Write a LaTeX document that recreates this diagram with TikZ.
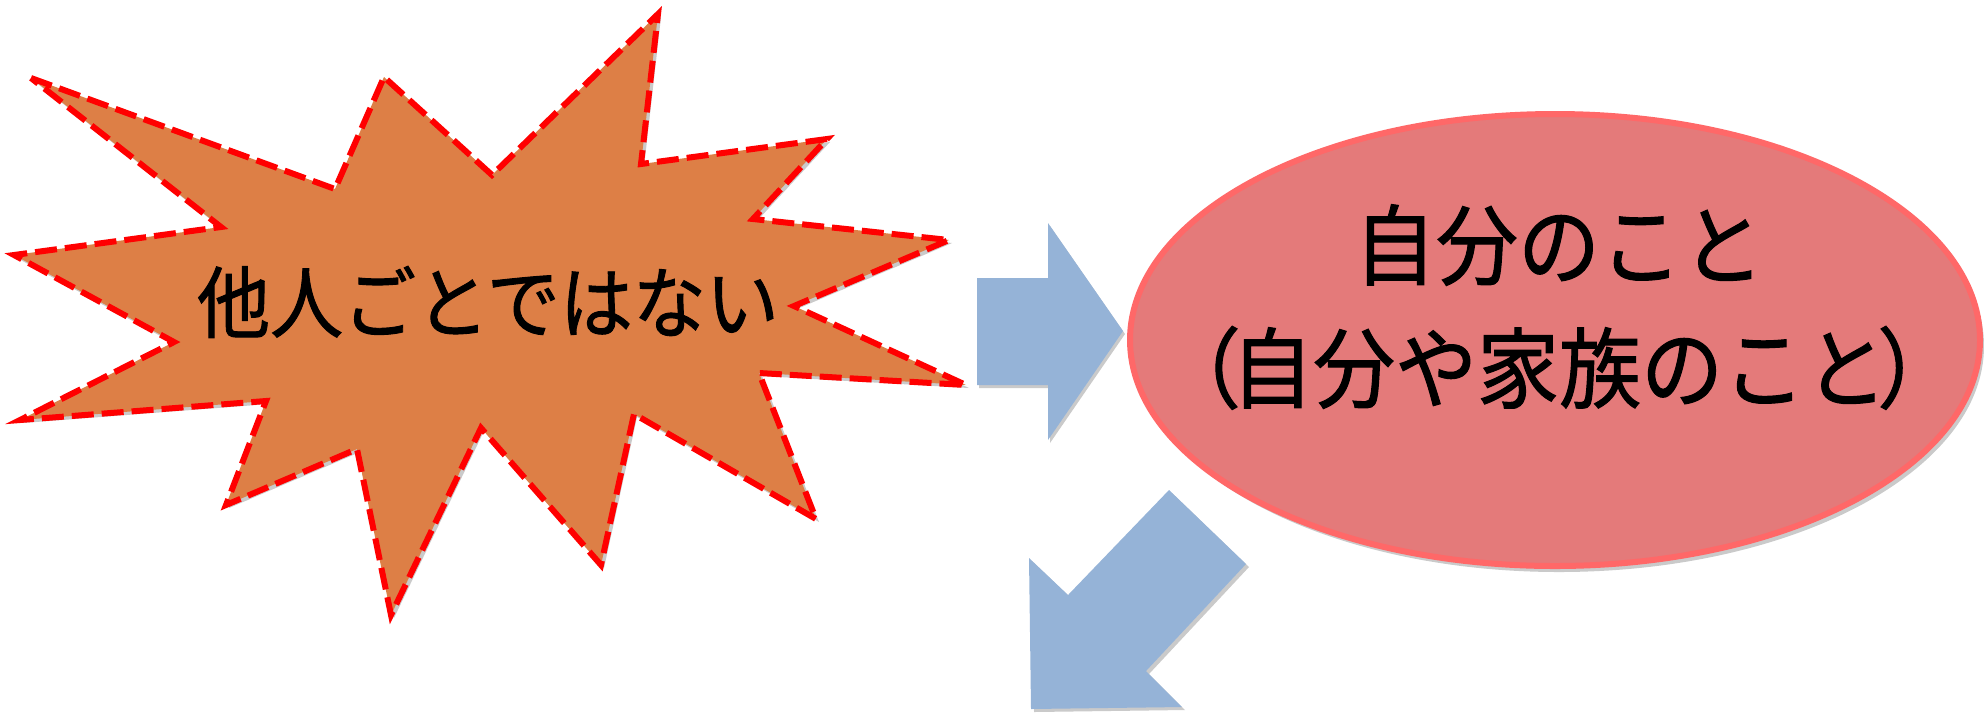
\documentclass[tikz,border=0pt]{standalone}
\usepackage{fontspec}
\newfontfamily\jp[FakeBold=1.2]{Noto Sans CJK JP}
\usetikzlibrary{shapes.geometric}
\definecolor{starfill}{RGB}{221,127,70}
\definecolor{starline}{RGB}{255,0,0}
\definecolor{ellfill}{RGB}{228,122,122}
\definecolor{ellline}{RGB}{255,104,104}
\definecolor{arrowfill}{RGB}{149,179,215}
\tikzset{
  starshape/.style={fill=starfill, draw=starline, line width=3pt, dash pattern=on 11pt off 4pt, line join=miter},
  shadowshape/.style={fill=black!60, opacity=0.35, draw=none},
  blockarrow/.style={fill=arrowfill, draw=none},
  selfell/.style={ellipse, fill=ellfill, draw=ellline, line width=3pt, minimum width=425pt, minimum height=226pt, inner sep=0pt},
  bigtext/.style={font=\jp\fontsize{36.5}{44}\selectfont, inner sep=0pt, align=center},
  elltext/.style={font=\jp\fontsize{41}{61.5}\selectfont, inner sep=0pt, align=center}
}
\begin{document}
\begin{tikzpicture}[x=0.5pt,y=-0.5pt]
\useasboundingbox (0,0) rectangle (1984,714);
% star
\path[shadowshape] (34,81) -- (338,192) -- (387,80) -- (495,178) -- (661,17) -- (644,167) -- (830,142) -- (756,222) -- (952,243) -- (797,309) -- (969,388) -- (762,376) -- (819,522) -- (637,417) -- (604,568) -- (484,431) -- (394,618) -- (360,452) -- (229,508) -- (269,404) -- (23,423) -- (177,345) -- (17,258) -- (224,230) -- cycle;
\path[starshape] (31,78) -- (335,189) -- (384,77) -- (492,175) -- (658,14) -- (641,164) -- (827,139) -- (753,219) -- (949,240) -- (794,306) -- (966,385) -- (759,373) -- (816,519) -- (634,414) -- (601,565) -- (481,428) -- (391,615) -- (357,449) -- (226,505) -- (266,401) -- (20,420) -- (174,342) -- (14,255) -- (221,227) -- cycle;
\node[bigtext] (startext) at (488,302) {\scalebox{1}[1.07]{他人ごとではない}};
% right arrow
\path[shadowshape] (979,281) -- (1050,281) -- (1050,226) -- (1125,334) -- (1050,443) -- (1050,388) -- (979,388) -- cycle;
\path[blockarrow] (977,278) -- (1048,278) -- (1048,223) -- (1123,331) -- (1048,440) -- (1048,385) -- (977,385) -- cycle;
% ellipse
\node[selfell, fill=black!60, draw=none, opacity=0.35] (selfshadow) at (1559,346) {};
\node[selfell] (self) at (1555,340) {};
\node[elltext] (selftext) at (1559,307) {\scalebox{1}[1.07]{自分のこと}\\\scalebox{1}[1.07]{（\kern-0.12em 自分や家族のこと\kern-0.12em ）}};
% down-left arrow
\path[shadowshape] (1172,493) -- (1249,567) -- (1149,674) -- (1185,710) -- (1034,712) -- (1032,561) -- (1071,598) -- cycle;
\path[blockarrow] (1169,490) -- (1246,564) -- (1146,671) -- (1182,707) -- (1031,709) -- (1029,558) -- (1068,595) -- cycle;
\end{tikzpicture}
\end{document}
